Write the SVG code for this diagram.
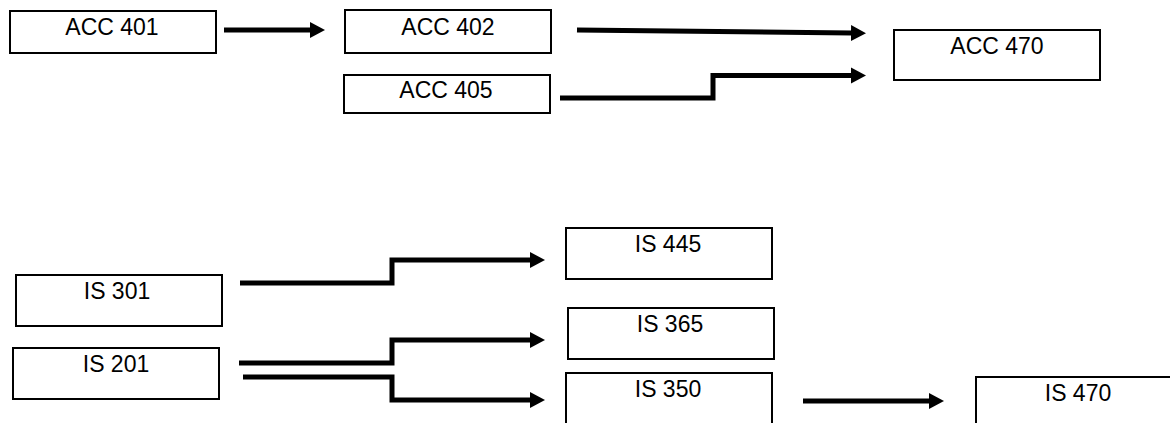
<svg xmlns="http://www.w3.org/2000/svg" width="1170" height="423" viewBox="0 0 1170 423">
<style>
.box{fill:#fff;stroke:#000;stroke-width:2}
.lbl{font-family:"Liberation Sans",Arial,sans-serif;font-size:23px;fill:#000;text-anchor:middle}
.cn{fill:none;stroke:#000;stroke-width:5;stroke-linejoin:miter;marker-end:url(#ah)}
</style>
<defs>
<marker id="ah" markerUnits="userSpaceOnUse" markerWidth="16" markerHeight="17" viewBox="0 0 16 17" refX="1" refY="8.5" orient="auto">
<path d="M0,0.5 L15,8.5 L0,16.5 z" fill="#000"/>
</marker>
</defs>
<rect width="1170" height="423" fill="#fff"/>
<g id="acc401"><rect class="box" x="10" y="11" width="206" height="42"/><text class="lbl" x="112" y="35">ACC 401</text></g>
<g id="acc402"><rect class="box" x="345" y="10" width="206" height="43"/><text class="lbl" x="448" y="35">ACC 402</text></g>
<g id="acc405"><rect class="box" x="344" y="75" width="206" height="38"/><text class="lbl" x="446" y="98">ACC 405</text></g>
<g id="acc470"><rect class="box" x="894" y="30" width="206" height="50"/><text class="lbl" x="997" y="54">ACC 470</text></g>
<g id="is445"><rect class="box" x="566" y="228" width="206" height="51"/><text class="lbl" x="668" y="252">IS 445</text></g>
<g id="is301"><rect class="box" x="16" y="275" width="206" height="51"/><text class="lbl" x="117" y="299">IS 301</text></g>
<g id="is365"><rect class="box" x="568" y="308" width="206" height="51"/><text class="lbl" x="670" y="332">IS 365</text></g>
<g id="is201"><rect class="box" x="13" y="348" width="206" height="51"/><text class="lbl" x="116" y="372">IS 201</text></g>
<g id="is350"><rect class="box" x="566" y="373" width="206" height="60"/><text class="lbl" x="668" y="397">IS 350</text></g>
<g id="is470"><rect class="box" x="976" y="377" width="220" height="60"/><text class="lbl" x="1078" y="401">IS 470</text></g>
<g id="connectors">
<path class="cn" d="M224,30 H311"/>
<path class="cn" d="M577,30 L852,33"/>
<path class="cn" d="M560,98 H713 V75.5 H852"/>
<path class="cn" d="M240,283 H392 V260 H531"/>
<path class="cn" d="M239,363 H392 V340 H531"/>
<path class="cn" d="M243,377 H392 V400 H531"/>
<path class="cn" d="M803,401 H930"/>
</g>
</svg>
